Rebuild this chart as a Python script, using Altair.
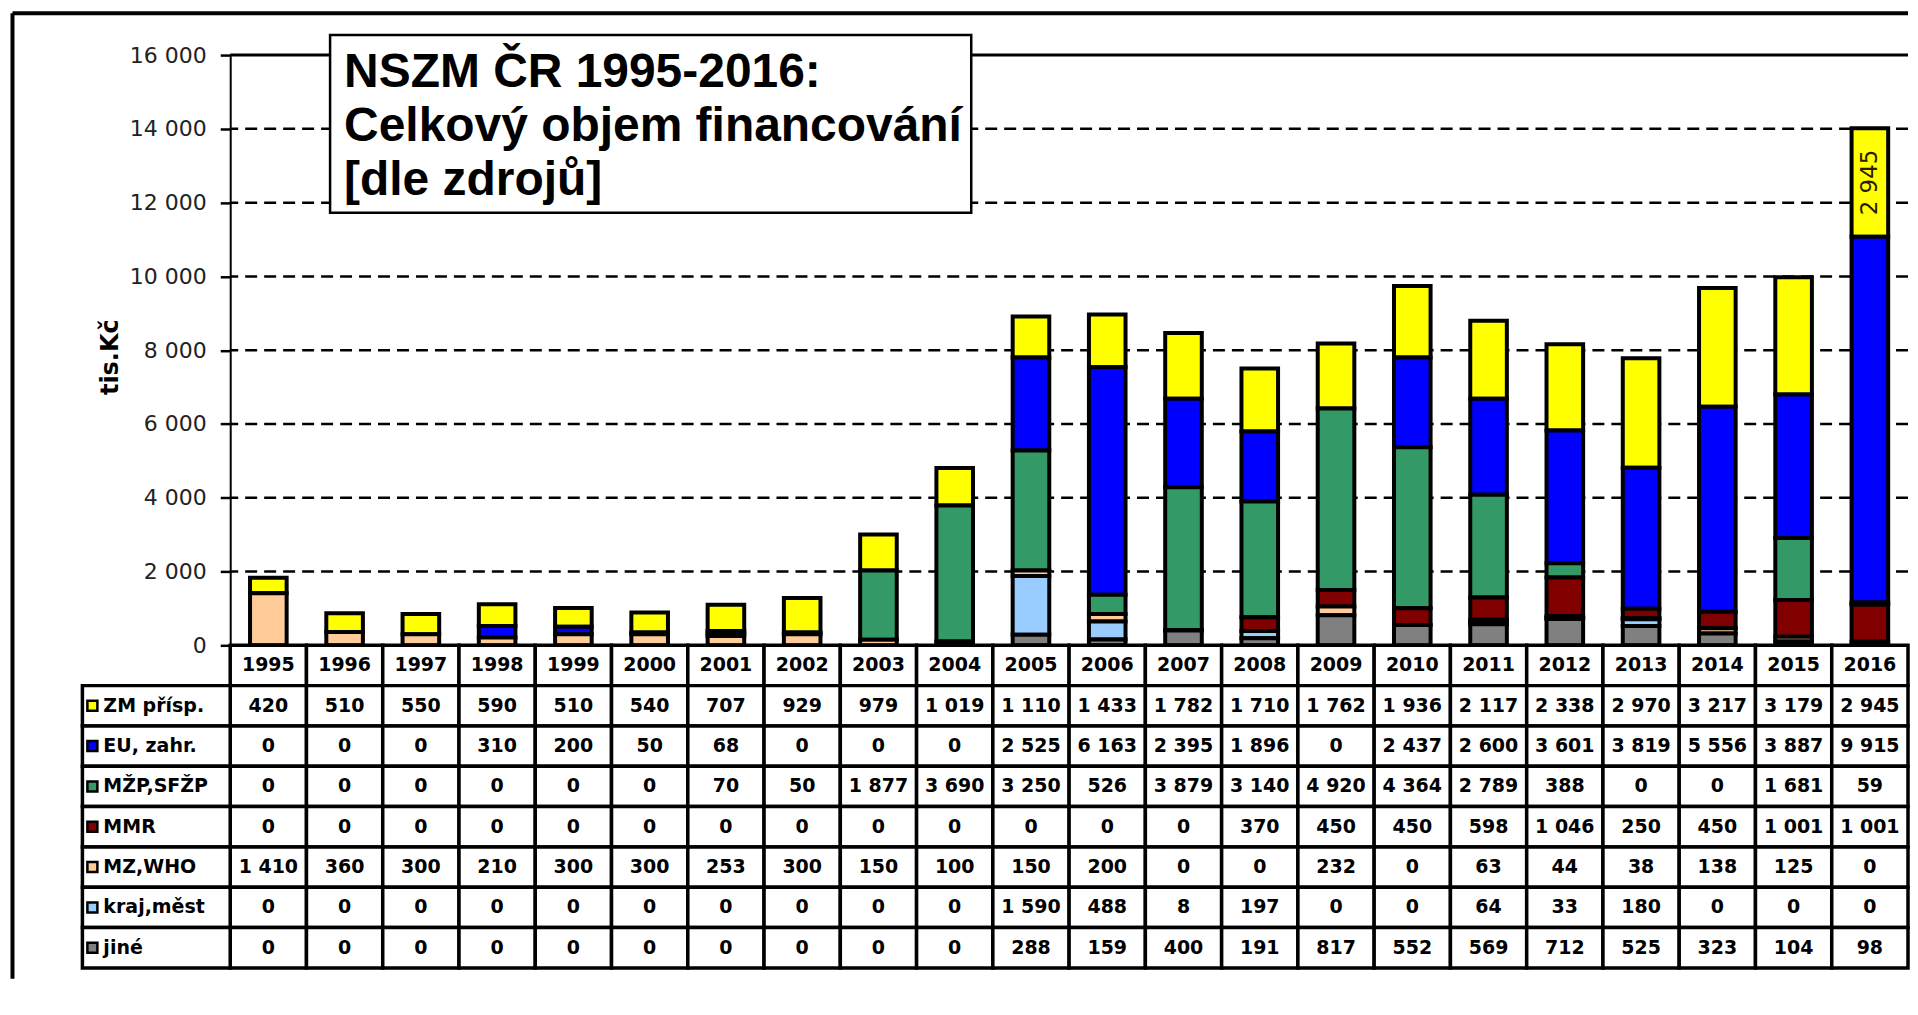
import altair as alt
import pandas as pd

# ---------------- data ----------------
years = list(range(1995, 2017))
series_names = ["ZM přísp.", "EU, zahr.", "MŽP,SFŽP", "MMR", "MZ,WHO", "kraj,měst", "jiné"]
series_colors = ["#FFFF00", "#0000FF", "#339966", "#800000", "#FFCC99", "#99CCFF", "#808080"]

zm_prisp = [420, 510, 550, 590, 510, 540, 707, 929, 979, 1019, 1110, 1433, 1782, 1710, 1762, 1936, 2117, 2338, 2970, 3217, 3179, 2945]
eu_zahr = [0, 0, 0, 310, 200, 50, 68, 0, 0, 0, 2525, 6163, 2395, 1896, 0, 2437, 2600, 3601, 3819, 5556, 3887, 9915]
mzp_sfzp = [0, 0, 0, 0, 0, 0, 70, 50, 1877, 3690, 3250, 526, 3879, 3140, 4920, 4364, 2789, 388, 0, 0, 1681, 59]
mmr = [0, 0, 0, 0, 0, 0, 0, 0, 0, 0, 0, 0, 0, 370, 450, 450, 598, 1046, 250, 450, 1001, 1001]
mz_who = [1410, 360, 300, 210, 300, 300, 253, 300, 150, 100, 150, 200, 0, 0, 232, 0, 63, 44, 38, 138, 125, 0]
kraj_mest = [0, 0, 0, 0, 0, 0, 0, 0, 0, 0, 1590, 488, 8, 197, 0, 0, 64, 33, 180, 0, 0, 0]
jine = [0, 0, 0, 0, 0, 0, 0, 0, 0, 0, 288, 159, 400, 191, 817, 552, 569, 712, 525, 323, 104, 98]

y_ticks = [0, 2000, 4000, 6000, 8000, 10000, 12000, 14000, 16000]
grid_lines = [2000, 4000, 6000, 8000, 10000, 12000, 14000]
title_lines = ["NSZM ČR 1995-2016:", "Celkový objem financování", "[dle zdrojů]"]
y_title = "tis.Kč"
label_year = 2016
label_series = "ZM přísp."

series_values = [zm_prisp, eu_zahr, mzp_sfzp, mmr, mz_who, kraj_mest, jine]

# ---------------- layout constants ----------------
N = len(years)
W = 1680
H = 591
NROWS = len(series_names) + 1
TABLE_H = 323
PX = N / W  # column units per pixel
FONT = "DejaVu Sans"


def fmt(v):
    return f"{v:,}".replace(",", " ")


# ---------------- bar data ----------------
bar_rows = []
for k, (s, vals) in enumerate(zip(series_names, series_values)):
    for i, y in enumerate(years):
        if vals[i] > 0:
            bar_rows.append({"year": y, "idx": i, "series": s,
                             "order": len(series_names) - 1 - k,
                             "value": vals[i], "label": fmt(vals[i])})
bars = pd.DataFrame(bar_rows)

xs = alt.Scale(domain=[0, N], nice=False, zero=False)
ys = alt.Scale(domain=[y_ticks[0], y_ticks[-1]], nice=False)
fill_scale = alt.Scale(domain=series_names, range=series_colors)

y_axis = alt.Axis(
    values=y_ticks, grid=False,
    domainColor="black", domainWidth=2,
    tickColor="black", tickWidth=2.5, tickSize=10,
    labelFont=FONT, labelFontSize=22, labelColor="#222", labelPadding=14,
    labelExpr="replace(format(datum.value, ','), ',', ' ')",
    title=y_title, titleFont=FONT, titleFontSize=24, titleFontWeight="bold",
    titleColor="black", titleAngle=270, titleAlign="center", titleBaseline="middle",
    titleX=-120, titleY=302,
)

base_bars = alt.Chart(bars).transform_stack(
    stack="value", groupby=["year"],
    sort=[alt.SortField("order", order="ascending")], as_=["v0", "v1"],
).transform_calculate(
    bx0="datum.idx + 0.26", bx1="datum.idx + 0.74",
    bxc="datum.idx + 0.5", vm="(datum.v0 + datum.v1) / 2",
)

bar_marks = base_bars.mark_rect(stroke="black", strokeWidth=4).encode(
    x=alt.X("bx0:Q", scale=xs, axis=None), x2="bx1:Q",
    y=alt.Y("v0:Q", scale=ys, axis=y_axis), y2="v1:Q",
    fill=alt.Fill("series:N", scale=fill_scale, legend=None),
)

bar_label = base_bars.transform_filter(
    f"datum.year == {label_year} && datum.series == '{label_series}'"
).mark_text(angle=270, font=FONT, fontSize=23, color="#2a1a00",
            align="center", baseline="middle").encode(
    x=alt.X("bxc:Q", scale=xs, axis=None),
    y=alt.Y("vm:Q", scale=ys, axis=y_axis),
    text="label:N",
)

grid = alt.Chart(pd.DataFrame({"g": grid_lines})).mark_rule(
    color="black", strokeWidth=2.5, strokeDash=[12, 7]
).encode(y=alt.Y("g:Q", scale=ys, axis=y_axis))

top_line = alt.Chart(pd.DataFrame({"g": [y_ticks[-1]]})).mark_rule(
    color="black", strokeWidth=3
).encode(y=alt.Y("g:Q", scale=ys, axis=y_axis))

one = pd.DataFrame({"a": [0]})
frame_top = alt.Chart(one).mark_rule(color="black", strokeWidth=4).encode(
    x=alt.value(-218), x2=alt.value(W), y=alt.value(-42))
frame_left = alt.Chart(one).mark_rule(color="black", strokeWidth=4).encode(
    x=alt.value(-218), y=alt.value(-42), y2=alt.value(925))

title_box = alt.Chart(one).mark_rect(fill="white", stroke="black", strokeWidth=2.5).encode(
    x=alt.value(100), x2=alt.value(742), y=alt.value(-20), y2=alt.value(158))
title_text = alt.Chart(one).mark_text(
    text="\n".join(title_lines), lineBreak="\n", lineHeight=54,
    align="left", baseline="alphabetic",
    font="Liberation Sans", fontSize=48, fontWeight="bold", color="black",
).encode(x=alt.value(114), y=alt.value(32))

top = alt.layer(
    grid, top_line, bar_marks, bar_label, title_box, title_text, frame_top, frame_left
).properties(width=W, height=H)

# ---------------- table ----------------
cells = []
for r in range(NROWS):
    for i in range(N):
        cells.append({"c0": i, "c1": i + 1, "r0": r, "r1": r + 1})
for k in range(len(series_names)):
    cells.append({"c0": -148 * PX, "c1": 0, "r0": k + 1, "r1": k + 2})
cells = pd.DataFrame(cells)

texts = [{"tx": i + 0.5, "ty": 0.5, "label": str(y)} for i, y in enumerate(years)]
for k, vals in enumerate(series_values):
    for i in range(N):
        texts.append({"tx": i + 0.5, "ty": k + 1.5, "label": fmt(vals[i])})
texts = pd.DataFrame(texts)

legend = pd.DataFrame({
    "series": series_names,
    "ty": [k + 1.5 for k in range(len(series_names))],
    "sx": [-138 * PX] * len(series_names),
    "lx": [-127 * PX] * len(series_names),
})

ts = alt.Scale(domain=[0, NROWS], nice=False, zero=False, reverse=True)

cell_marks = alt.Chart(cells).mark_rect(fill="white", stroke="black", strokeWidth=3.5).encode(
    x=alt.X("c0:Q", scale=xs, axis=None), x2="c1:Q",
    y=alt.Y("r0:Q", scale=ts, axis=None), y2="r1:Q",
)
text_marks = alt.Chart(texts).mark_text(
    font=FONT, fontSize=19, fontWeight="bold", color="black",
    align="center", baseline="middle",
).encode(
    x=alt.X("tx:Q", scale=xs, axis=None),
    y=alt.Y("ty:Q", scale=ts, axis=None),
    text="label:N",
)
legend_sq = alt.Chart(legend).mark_point(
    shape="square", filled=True, size=100, stroke="black", strokeWidth=2.5, opacity=1
).encode(
    x=alt.X("sx:Q", scale=xs, axis=None),
    y=alt.Y("ty:Q", scale=ts, axis=None),
    fill=alt.Fill("series:N", scale=fill_scale, legend=None),
)
legend_txt = alt.Chart(legend).mark_text(
    font=FONT, fontSize=19, fontWeight="bold", color="black",
    align="left", baseline="middle",
).encode(
    x=alt.X("lx:Q", scale=xs, axis=None),
    y=alt.Y("ty:Q", scale=ts, axis=None),
    text="series:N",
)

table = alt.layer(cell_marks, text_marks, legend_sq, legend_txt).properties(width=W, height=TABLE_H)

chart = alt.vconcat(top, table, spacing=0, bounds="flush").resolve_scale(
    x="independent", y="independent", fill="independent"
).properties(
    padding={"left": 2.5, "top": 2.5, "right": 0, "bottom": 0}
).configure_view(strokeWidth=0)

chart.save("out.html", embed_options={"renderer": "svg", "actions": False})
